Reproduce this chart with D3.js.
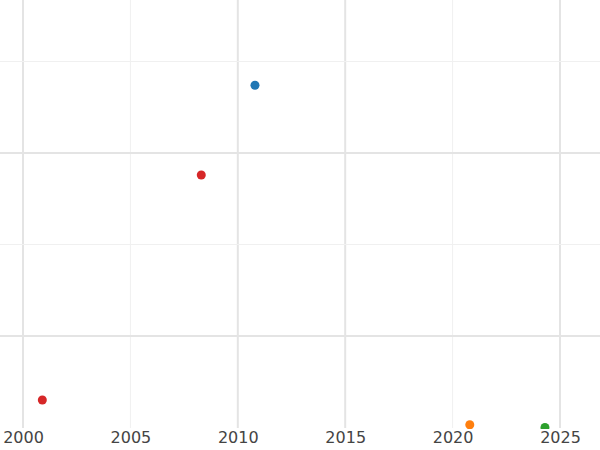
<!DOCTYPE html>
<html><head><meta charset="utf-8">
<script src="https://cdn.jsdelivr.net/npm/d3@7"></script>
<style>body{margin:0;background:#fff}</style></head>
<body><svg id="c" width="600" height="450"></svg>
<script>
const years = [2010.8, 2008.3, 2000.9, 2020.8, 2024.3];
const values = [3.74, 2.76, 0.30, 0.03, 0.0];
const colors = ["#1f77b4", "#d62728", "#d62728", "#ff7f0e", "#2ca02c"];
const xTicks = [2000, 2005, 2010, 2015, 2020, 2025];
const xMinor = [2005, 2020];
const yMajor = [1, 3];
const yMinor = [2, 4];

const svg = d3.select("#c");
const x = d3.scaleLinear().domain([2000, 2025]).range([23, 560]);
const y = d3.scaleLinear().domain([0, 1]).range([427.5, 336]);

svg.append("clipPath").attr("id", "clip").append("rect")
  .attr("x", 0).attr("y", 0).attr("width", 600).attr("height", 429);

svg.selectAll(".vg").data(xTicks).enter().append("line")
  .attr("x1", d => x(d)).attr("x2", d => x(d)).attr("y1", 0).attr("y2", 428)
  .attr("stroke", d => xMinor.includes(d) ? "#f0f0f0" : "#e4e4e4")
  .attr("stroke-width", d => xMinor.includes(d) ? 1 : 2);
svg.selectAll(".hg").data(yMajor.concat(yMinor)).enter().append("line")
  .attr("x1", 0).attr("x2", 600).attr("y1", d => y(d)).attr("y2", d => y(d))
  .attr("stroke", d => yMinor.includes(d) ? "#f0f0f0" : "#e4e4e4")
  .attr("stroke-width", d => yMinor.includes(d) ? 1 : 2);

const ax = svg.append("g").attr("transform", "translate(0,428)")
  .call(d3.axisBottom(x).tickValues(xTicks).tickFormat(d3.format("d")).tickSize(0).tickPadding(4));
ax.select(".domain").remove();
ax.selectAll("text").attr("font-family", "DejaVu Sans").attr("font-size", 16).attr("fill", "#444");

svg.append("g").attr("clip-path", "url(#clip)")
  .selectAll("circle").data(years).enter().append("circle")
  .attr("cx", d => x(d)).attr("cy", (d, i) => y(values[i])).attr("r", 4.5)
  .attr("fill", (d, i) => colors[i]);
</script></body></html>
